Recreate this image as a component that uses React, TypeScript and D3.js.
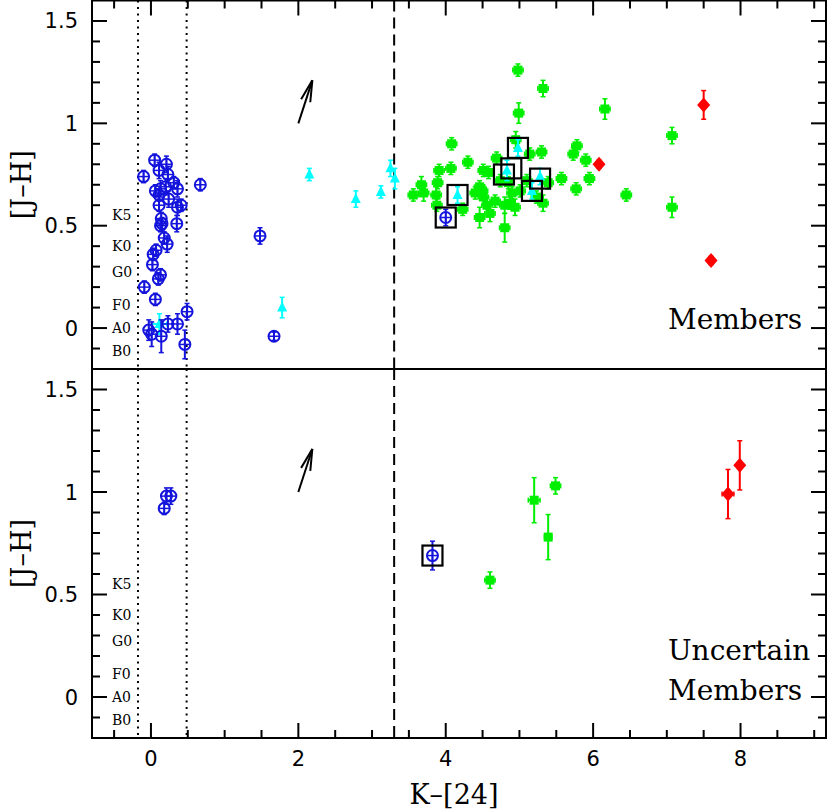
import React, { useEffect } from "react";
import * as d3 from "d3";

// [x, y, yErr, xErr]
const topBlue: number[][] = [
  [0.05, 0.82, 0.03], [0.21, 0.8, 0.04], [-0.1, 0.74, 0.03], [0.11, 0.77, 0.04], [0.23, 0.75, 0.04],
  [0.31, 0.71, 0.03], [0.67, 0.7, 0.03], [0.36, 0.68, 0.04], [0.06, 0.67, 0.03], [0.13, 0.68, 0.04],
  [0.2, 0.69, 0.04], [0.11, 0.65, 0.03], [0.24, 0.63, 0.04], [0.11, 0.6, 0.03], [0.36, 0.59, 0.04],
  [0.41, 0.6, 0.03], [0.14, 0.535, 0.03], [0.15, 0.51, 0.03], [0.35, 0.51, 0.04], [0.13, 0.5, 0.03],
  [0.18, 0.44, 0.03], [0.22, 0.41, 0.04], [0.07, 0.38, 0.03], [0.03, 0.36, 0.03], [0.02, 0.31, 0.03],
  [0.13, 0.26, 0.03], [0.1, 0.24, 0.03], [-0.09, 0.2, 0.03], [0.06, 0.14, 0.03], [0.49, 0.08, 0.04],
  [-0.03, -0.01, 0.05], [0.23, 0.02, 0.04], [0.36, 0.02, 0.05], [0.01, -0.03, 0.06], [0.14, -0.04, 0.08],
  [0.46, -0.08, 0.07], [1.48, 0.45, 0.04], [1.67, -0.04, 0.02], [4.0, 0.54, 0.04],
];
const topCyan: number[][] = [
  [0.115, 0.02, 0.05, 0.1], [1.78, 0.1, 0.05], [2.15, 0.75, 0.03], [2.78, 0.63, 0.04], [3.12, 0.665, 0.03],
  [3.25, 0.78, 0.04], [3.31, 0.73, 0.05], [4.16, 0.65, 0.04], [4.98, 0.88, 0.04], [4.83, 0.77, 0.05],
  [5.28, 0.74, 0.04], [5.17, 0.67, 0.04],
];
const topGreen: number[][] = [
  [4.98, 1.26, 0.03], [5.32, 1.17, 0.04], [4.99, 1.05, 0.05], [6.16, 1.07, 0.05], [7.07, 0.94, 0.04],
  [4.08, 0.9, 0.03], [4.3, 0.81, 0.03], [4.95, 0.92, 0.04], [5.3, 0.86, 0.03], [5.14, 0.85, 0.03],
  [4.69, 0.83, 0.03], [5.78, 0.89, 0.03], [5.73, 0.85, 0.03], [5.9, 0.82, 0.03], [5.95, 0.73, 0.03],
  [5.57, 0.73, 0.03], [5.77, 0.68, 0.03], [6.45, 0.65, 0.03], [7.07, 0.59, 0.05], [3.91, 0.77, 0.03],
  [4.07, 0.78, 0.03], [3.56, 0.65, 0.03], [3.67, 0.7, 0.04], [3.7, 0.66, 0.04], [3.89, 0.71, 0.03],
  [3.87, 0.65, 0.04], [3.88, 0.6, 0.03], [4.23, 0.58, 0.03], [4.46, 0.54, 0.05], [4.6, 0.56, 0.04],
  [4.8, 0.49, 0.07], [4.51, 0.77, 0.03], [4.58, 0.76, 0.03], [4.4, 0.66, 0.03], [4.46, 0.69, 0.03],
  [4.51, 0.64, 0.04], [4.56, 0.6, 0.04], [4.67, 0.62, 0.03], [4.8, 0.6, 0.04], [4.87, 0.61, 0.03],
  [4.94, 0.59, 0.04], [4.9, 0.66, 0.03], [5.01, 0.67, 0.03], [5.1, 0.72, 0.03], [5.32, 0.61, 0.04],
  [5.39, 0.71, 0.03], [5.23, 0.64, 0.03], [4.85, 0.71, 0.03], [4.74, 0.72, 0.03], [4.5, 0.67, 0.03],
];
const topRed: number[][] = [[6.08, 0.8, 0.02], [7.5, 1.09, 0.07], [7.6, 0.33, 0.02]];
const topBoxes: number[][] = [[4.0, 0.54], [4.16, 0.65], [4.98, 0.88], [4.89, 0.78], [4.79, 0.75], [5.28, 0.73], [5.17, 0.67]];

const botBlue: number[][] = [[0.21, 0.98, 0.04], [0.27, 0.98, 0.04], [0.18, 0.92, 0.03], [3.82, 0.69, 0.07]];
const botGreen: number[][] = [[4.6, 0.57, 0.04], [5.2, 0.96, 0.11, 0.08], [5.39, 0.78, 0.11, 0.05], [5.49, 1.03, 0.04]];
const botRed: number[][] = [[7.83, 0.99, 0.12, 0.08], [7.99, 1.13, 0.12]];
const botBoxes: number[][] = [[3.82, 0.69]];

const spectralTypes = ["K5", "K0", "G0", "F0", "A0", "B0"];
const spectralY = [0.55, 0.4, 0.275, 0.112, 0.0, -0.11];
const yTickLabels = [0, 0.5, 1, 1.5];
const xTickLabels = [0, 2, 4, 6, 8];
const reddening = [[2.0, 1.0], [2.19, 1.21]];
const dottedX = [-0.176, 0.484];
const dashedX = 3.3;

const BLUE = "#1414dc";
const GREEN = "#00ee00";
const CYAN = "#00ffff";
const RED = "#ff0000";

const X0 = 92, X1 = 826;
const x = d3.scaleLinear().domain([-0.8, 9.16]).range([X0, X1]);

function ErrBar({ d, sx, sy, color }: any) {
  const cx = sx(d[0]), cy = sy(d[1]);
  const els: any[] = [];
  if (d[2]) {
    const y1 = sy(d[1] + d[2]), y2 = sy(d[1] - d[2]);
    els.push(<line key="v" x1={cx} x2={cx} y1={y1} y2={y2} stroke={color} strokeWidth={2} />);
    els.push(<line key="c1" x1={cx - 2.5} x2={cx + 2.5} y1={y1} y2={y1} stroke={color} strokeWidth={1.5} />);
    els.push(<line key="c2" x1={cx - 2.5} x2={cx + 2.5} y1={y2} y2={y2} stroke={color} strokeWidth={1.5} />);
  }
  if (d[3]) {
    const x1 = sx(d[0] - d[3]), x2 = sx(d[0] + d[3]);
    els.push(<line key="h" x1={x1} x2={x2} y1={cy} y2={cy} stroke={color} strokeWidth={2} />);
    els.push(<line key="h1" x1={x1} x2={x1} y1={cy - 2.5} y2={cy + 2.5} stroke={color} strokeWidth={1.5} />);
    els.push(<line key="h2" x1={x2} x2={x2} y1={cy - 2.5} y2={cy + 2.5} stroke={color} strokeWidth={1.5} />);
  }
  return <g>{els}</g>;
}

function Panel({ top, bottom, blue, cyan, green, red, boxes, label }: any) {
  const y = d3.scaleLinear().domain([-0.2, 1.6]).range([bottom, top]);
  const xMajor = d3.range(0, 9.01, 2);
  const xMinor = d3.range(-0.5, 9.2, 0.5).filter((v) => Math.abs(v / 2 - Math.round(v / 2)) > 1e-6);
  const yMajor = d3.range(0, 1.51, 0.5);
  const yMinor = d3.range(-0.1, 1.6, 0.1).filter((v) => Math.abs(v * 2 - Math.round(v * 2)) > 1e-6);
  const isTop = label.length === 1;
  const [a0, a1] = reddening;
  const ax0 = x(a0[0]), ay0 = y(a0[1]), ax1 = x(a1[0]), ay1 = y(a1[1]);
  const ang = Math.atan2(ay1 - ay0, ax1 - ax0);
  const hl = 22, ha = 0.22;
  return (
    <g>
      {/* reference lines */}
      {dottedX.map((v, i) => (
        <line key={"dt" + i} x1={x(v)} x2={x(v)} y1={top} y2={bottom} stroke="#000" strokeWidth={2} strokeDasharray="2,4.5" />
      ))}
      <line x1={x(dashedX)} x2={x(dashedX)} y1={top} y2={bottom} stroke="#000" strokeWidth={2} strokeDasharray="11,6" />
      {/* spectral types */}
      {spectralTypes.map((s, i) => (
        <text key={s} x={112} y={y(spectralY[i]) + 5} fontFamily="DejaVu Serif" fontSize={14}>{s}</text>
      ))}
      {/* reddening arrow */}
      <line x1={ax0} y1={ay0} x2={ax1} y2={ay1} stroke="#000" strokeWidth={2} />
      <line x1={ax1} y1={ay1} x2={ax1 - hl * Math.cos(ang - ha)} y2={ay1 - hl * Math.sin(ang - ha)} stroke="#000" strokeWidth={2} />
      <line x1={ax1} y1={ay1} x2={ax1 - hl * Math.cos(ang + ha)} y2={ay1 - hl * Math.sin(ang + ha)} stroke="#000" strokeWidth={2} />
      {/* green squares */}
      {green.map((d: number[], i: number) => (
        <g key={"g" + i}>
          <ErrBar d={[d[0], d[1], d[2], d[3] ?? 0.07]} sx={x} sy={y} color={GREEN} />
          <rect x={x(d[0]) - 4.5} y={y(d[1]) - 4.5} width={9} height={9} fill={GREEN} />
        </g>
      ))}
      {/* cyan triangles */}
      {cyan.map((d: number[], i: number) => {
        const cx = x(d[0]), cy = y(d[1]);
        return (
          <g key={"c" + i}>
            <ErrBar d={d} sx={x} sy={y} color={CYAN} />
            <path d={`M${cx},${cy - 6} L${cx + 5},${cy + 4} L${cx - 5},${cy + 4} Z`} fill={CYAN} />
          </g>
        );
      })}
      {/* blue circles */}
      {blue.map((d: number[], i: number) => {
        const cx = x(d[0]), cy = y(d[1]);
        return (
          <g key={"b" + i}>
            <ErrBar d={d} sx={x} sy={y} color={BLUE} />
            <circle cx={cx} cy={cy} r={5.5} fill="none" stroke={BLUE} strokeWidth={2} />
            <line x1={cx - 5.5} x2={cx + 5.5} y1={cy} y2={cy} stroke={BLUE} strokeWidth={1.5} />
            <line x1={cx} x2={cx} y1={cy - 5.5} y2={cy + 5.5} stroke={BLUE} strokeWidth={1.5} />
          </g>
        );
      })}
      {/* red diamonds */}
      {red.map((d: number[], i: number) => {
        const cx = x(d[0]), cy = y(d[1]);
        return (
          <g key={"r" + i}>
            <ErrBar d={d} sx={x} sy={y} color={RED} />
            <path d={`M${cx},${cy - 7.5} L${cx + 6.5},${cy} L${cx},${cy + 7.5} L${cx - 6.5},${cy} Z`} fill={RED} />
          </g>
        );
      })}
      {/* boxes */}
      {boxes.map((d: number[], i: number) => (
        <rect key={"bx" + i} x={x(d[0]) - 10} y={y(d[1]) - 10} width={20} height={20} fill="none" stroke="#000" strokeWidth={2.2} />
      ))}
      {/* frame */}
      <rect x={X0} y={top} width={X1 - X0} height={bottom - top} fill="none" stroke="#000" strokeWidth={2} />
      {/* y ticks */}
      {yMajor.map((v: number) => (
        <g key={"ym" + v}>
          <line x1={X0} x2={X0 + 15} y1={y(v)} y2={y(v)} stroke="#000" strokeWidth={2} />
          <line x1={X1} x2={X1 - 15} y1={y(v)} y2={y(v)} stroke="#000" strokeWidth={2} />
        </g>
      ))}
      {yMinor.map((v: number, i: number) => (
        <g key={"yn" + i}>
          <line x1={X0} x2={X0 + 8} y1={y(v)} y2={y(v)} stroke="#000" strokeWidth={2} />
          <line x1={X1} x2={X1 - 8} y1={y(v)} y2={y(v)} stroke="#000" strokeWidth={2} />
        </g>
      ))}
      {yTickLabels.map((v) => (
        <text key={"yl" + v} x={78} y={y(v) + 7.5} textAnchor="end" fontFamily="DejaVu Sans" fontSize={21}>{String(v)}</text>
      ))}
      {/* x ticks */}
      {isTop
        ? xMajor.map((v: number) => <line key={"xt" + v} x1={x(v)} x2={x(v)} y1={top} y2={top + 15} stroke="#000" strokeWidth={2} />)
        : xMajor.map((v: number) => <line key={"xb" + v} x1={x(v)} x2={x(v)} y1={bottom} y2={bottom - 15} stroke="#000" strokeWidth={2} />)}
      {xMinor.map((v: number, i: number) =>
        isTop ? (
          <line key={"xtn" + i} x1={x(v)} x2={x(v)} y1={top} y2={top + 8} stroke="#000" strokeWidth={2} />
        ) : (
          <line key={"xbn" + i} x1={x(v)} x2={x(v)} y1={bottom} y2={bottom - 8} stroke="#000" strokeWidth={2} />
        )
      )}
      {!isTop &&
        xTickLabels.map((v) => (
          <text key={"xl" + v} x={x(v)} y={bottom + 28} textAnchor="middle" fontFamily="DejaVu Sans" fontSize={21}>{String(v)}</text>
        ))}
      {/* y title */}
      <text transform={`translate(31,${(top + bottom) / 2}) rotate(-90)`} textAnchor="middle" fontFamily="DejaVu Serif" fontSize={27}>[J–H]</text>
      {/* panel label */}
      {label.map((s: string, i: number) => (
        <text key={s} x={668} y={isTop ? bottom - 40 : bottom - 78 + i * 40} fontFamily="DejaVu Serif" fontSize={28}>{s}</text>
      ))}
    </g>
  );
}

export default function App() {
  useEffect(() => {
    document.body.style.margin = "0";
  }, []);
  return (
    <svg width={830} height={811} style={{ display: "block", background: "#fff" }}>
      <rect width={830} height={811} fill="#fff" />
      <Panel top={0.5} bottom={369} blue={topBlue} cyan={topCyan} green={topGreen} red={topRed} boxes={topBoxes} label={["Members"]} />
      <Panel top={369} bottom={738} blue={botBlue} cyan={[]} green={botGreen} red={botRed} boxes={botBoxes} label={["Uncertain", "Members"]} />
      <text x={454} y={804} textAnchor="middle" fontFamily="DejaVu Serif" fontSize={27}>K–[24]</text>
    </svg>
  );
}
